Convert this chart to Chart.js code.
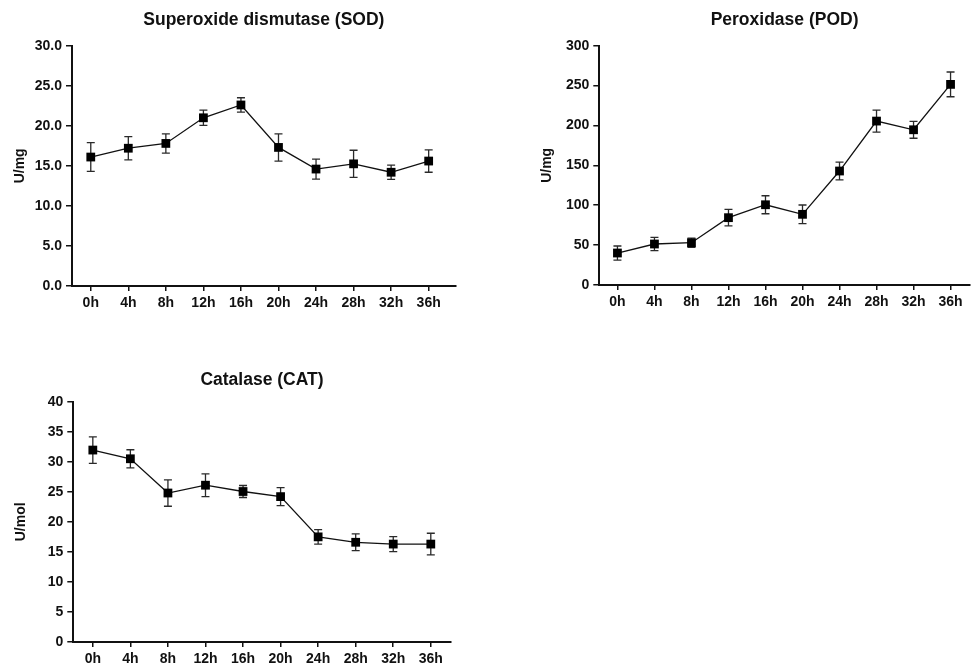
<!DOCTYPE html>
<html>
<head>
<meta charset="utf-8">
<script src="https://cdn.jsdelivr.net/npm/chart.js@4.4.1/dist/chart.umd.min.js"></script>
<style>
  html, body { margin: 0; padding: 0; background: #fff; overflow: hidden; width: 976px; height: 667px; }
  canvas { position: absolute; }
</style>
</head>
<body>
<canvas id="sodChart" width="470" height="330" style="left:0;top:0"></canvas>
<canvas id="podChart" width="456" height="330" style="left:520px;top:0"></canvas>
<canvas id="catChart" width="470" height="311" style="left:0;top:356px"></canvas>
<script>
// Sampling times
const timeLabels = ['0h', '4h', '8h', '12h', '16h', '20h', '24h', '28h', '32h', '36h'];

// Superoxide dismutase activity (U/mg), mean and SD
const sodMean = [16.1, 17.2, 17.8, 21.0, 22.6, 17.3, 14.6, 15.25, 14.2, 15.6];
const sodSd   = [1.8, 1.45, 1.2, 0.95, 0.9, 1.7, 1.25, 1.7, 0.9, 1.4];

// Peroxidase activity (U/mg), mean and SD
const podMean = [40.1, 51.4, 53.0, 84.4, 100.6, 88.6, 142.9, 205.5, 194.6, 251.5];
const podSd   = [8.8, 8.4, 5.8, 10.4, 11.3, 11.7, 11.2, 13.8, 10.6, 15.5];

// Catalase activity (U/mol), mean and SD
const catMean = [31.95, 30.5, 24.8, 26.1, 25.05, 24.2, 17.5, 16.6, 16.3, 16.3];
const catSd   = [2.2, 1.5, 2.2, 1.9, 1.0, 1.5, 1.2, 1.4, 1.25, 1.8];

const FONT = "'Liberation Sans', Arial, Helvetica, sans-serif";
const INK = '#111';

// Vertical error bars with caps, drawn underneath the markers
const errorBars = {
  id: 'errorBars',
  beforeDatasetsDraw(chart) {
    const { ctx, scales: { x, y } } = chart;
    chart.data.datasets.forEach(ds => {
      if (!ds.errors) return;
      ctx.save();
      ctx.strokeStyle = '#2a2a2a';
      ctx.lineWidth = 1.3;
      ds.data.forEach((p, i) => {
        const e = ds.errors[i];
        const px = x.getPixelForValue(p.x);
        const top = y.getPixelForValue(p.y + e);
        const bot = y.getPixelForValue(p.y - e);
        ctx.beginPath();
        ctx.moveTo(px, top); ctx.lineTo(px, bot);
        ctx.moveTo(px - 4, top); ctx.lineTo(px + 4, top);
        ctx.moveTo(px - 4, bot); ctx.lineTo(px + 4, bot);
        ctx.stroke();
      });
      ctx.restore();
    });
  }
};

function makePanel(id, cfg) {
  const points = cfg.means.map((v, i) => ({ x: i, y: v }));
  return new Chart(document.getElementById(id), {
    type: 'line',
    data: {
      datasets: [{
        data: points,
        errors: cfg.sds,
        borderColor: INK,
        borderWidth: 1.3,
        pointStyle: 'rect',
        pointRadius: 6.2,
        pointBorderWidth: 0,
        pointBackgroundColor: '#000',
        tension: 0,
        clip: false
      }]
    },
    options: {
      responsive: false,
      animation: false,
      events: [],
      layout: { padding: cfg.pad },
      plugins: {
        legend: { display: false },
        tooltip: { enabled: false },
        title: {
          display: true,
          text: cfg.title,
          fullSize: false,
          color: INK,
          font: { family: FONT, size: 17.5, weight: 'bold', lineHeight: 1.2 },
          padding: cfg.titlePad
        }
      },
      scales: {
        x: {
          type: 'linear',
          min: cfg.xMin,
          max: cfg.xMax,
          afterBuildTicks: s => { s.ticks = timeLabels.map((_, i) => ({ value: i })); },
          afterFit: s => { s.height = cfg.xHeight; },
          grid: { display: true, drawOnChartArea: false, drawTicks: true, tickLength: 5, color: INK, lineWidth: 1.5 },
          border: { display: true, color: INK, width: 2 },
          ticks: {
            color: INK,
            font: { family: FONT, size: 14, weight: 'bold' },
            padding: 4,
            maxRotation: 0,
            autoSkip: false,
            callback: v => timeLabels[v]
          }
        },
        y: {
          min: 0,
          max: cfg.yMax,
          afterFit: s => { s.width = 64; },
          grid: { display: true, drawOnChartArea: false, drawTicks: true, tickLength: 6, color: INK, lineWidth: 1.5 },
          border: { display: true, color: INK, width: 2 },
          ticks: {
            stepSize: cfg.yStep,
            color: INK,
            font: { family: FONT, size: 14, weight: 'bold' },
            padding: 4,
            callback: v => v.toFixed(cfg.yDecimals)
          },
          title: {
            display: true,
            text: cfg.yTitle,
            color: INK,
            font: { family: FONT, size: 14, weight: 'bold', lineHeight: 1.2 },
            padding: { top: 3.6, bottom: 0 }
          }
        }
      }
    },
    plugins: [errorBars]
  });
}

makePanel('sodChart', {
  title: 'Superoxide dismutase (SOD)', yTitle: 'U/mg',
  means: sodMean, sds: sodSd, yMax: 30, yStep: 5, yDecimals: 1,
  xMin: -0.5, xMax: 9.72, xHeight: 44,
  pad: { left: 8, right: 14.3, top: 0, bottom: 0 },
  titlePad: { top: 10, bottom: 14.7 }
});

makePanel('podChart', {
  title: 'Peroxidase (POD)', yTitle: 'U/mg',
  means: podMean, sds: podSd, yMax: 300, yStep: 50, yDecimals: 0,
  xMin: -0.49, xMax: 9.52, xHeight: 45,
  pad: { left: 15.3, right: 2, top: 0, bottom: 0 },
  titlePad: { top: 10, bottom: 14.7 }
});

makePanel('catChart', {
  title: 'Catalase (CAT)', yTitle: 'U/mol',
  means: catMean, sds: catSd, yMax: 40, yStep: 5, yDecimals: 0,
  xMin: -0.52, xMax: 9.53, xHeight: 25,
  pad: { left: 9.3, right: 19.3, top: 0, bottom: 0 },
  titlePad: { top: 14, bottom: 10.7 }
});
</script>
</body>
</html>
